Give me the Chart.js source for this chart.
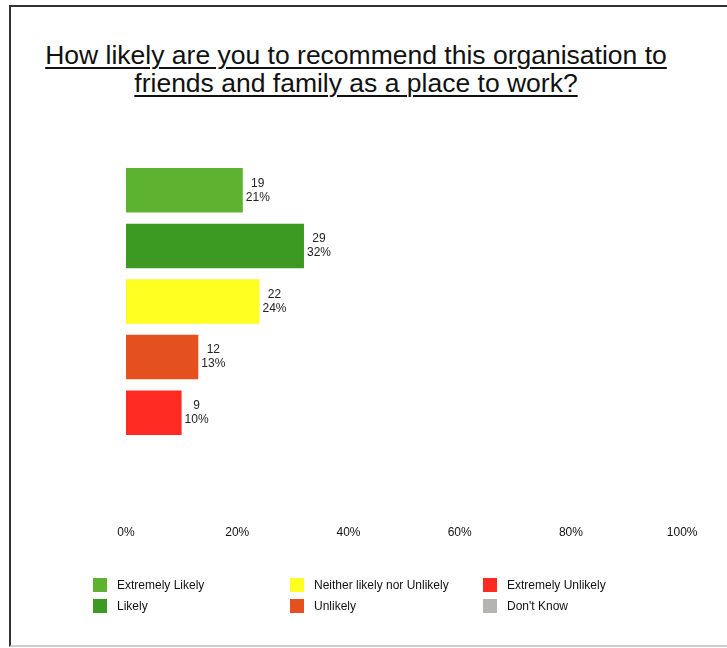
<!DOCTYPE html>
<html>
<head>
<meta charset="utf-8">
<title>Recommend as a place to work</title>
<script src="https://cdn.jsdelivr.net/npm/chart.js@4.4.1/dist/chart.umd.min.js"></script>
<style>
  html, body { margin: 0; padding: 0; background: #fff; }
  body { width: 727px; height: 648px; position: relative; overflow: hidden; font-family: "Liberation Sans", Arial, sans-serif; }
  #frame { position: absolute; left: 9px; top: 5px; width: 740px; height: 638px; border-left: 2px solid #333; border-top: 2px solid #333; border-bottom: 2px solid #ccc; }
  #title { position: absolute; left: 0; top: 41px; width: 712px; text-align: center; font-size: 26.5px; line-height: 28px; color: #111; text-decoration: underline; text-decoration-thickness: 2px; text-underline-offset: 3px; margin: 0; font-weight: normal; }
  #chart { position: absolute; left: 0; top: 0; }
  .item { position: absolute; font-size: 12px; color: #111; line-height: 14px; white-space: nowrap; }
  .item span { position: absolute; left: 0; top: 0; width: 14px; height: 14px; }
  .item b { font-weight: normal; position: absolute; left: 24px; top: 0; }
</style>
</head>
<body>
<div id="frame"></div>
<h1 id="title">How likely are you to recommend this organisation to<br>friends and family as a place to work?</h1>
<canvas id="chart" width="727" height="648"></canvas>
<div id="legend"></div>
<script>
// answers, top to bottom
const categories = ['Extremely Likely', 'Likely', 'Neither likely nor Unlikely', 'Unlikely', 'Extremely Unlikely', "Don't Know"];
const counts = [19, 29, 22, 12, 9, 0];
const percents = [21, 32, 24, 13, 10, 0];
const barColors = ['#5db22f', '#3c9a22', '#ffff22', '#e5501f', '#ff2a22', '#b4b4b0'];
const xTicks = [0, 20, 40, 60, 80, 100];

// count and percent written to the right of each bar
const barLabels = {
    id: 'barLabels',
    afterDatasetsDraw(chart) {
        const ctx = chart.ctx;
        const meta = chart.getDatasetMeta(0);
        ctx.save();
        ctx.font = '12px "Liberation Sans", Arial, sans-serif';
        ctx.fillStyle = '#222';
        ctx.textAlign = 'center';
        ctx.textBaseline = 'middle';
        meta.data.forEach(function(bar, i) {
            if (!counts[i]) return;
            ctx.fillText(String(counts[i]), bar.x + 15, bar.y - 7);
            ctx.fillText(percents[i] + '%', bar.x + 15, bar.y + 7);
        });
        ctx.restore();
    }
};

const ctx = document.getElementById('chart').getContext('2d');
new Chart(ctx, {
    type: 'bar',
    data: {
        labels: categories,
        datasets: [{
            data: percents,
            backgroundColor: barColors,
            barPercentage: 0.8,
            categoryPercentage: 1.0
        }]
    },
    options: {
        indexAxis: 'y',
        responsive: false,
        animation: false,
        layout: { padding: { left: 126, right: 40, top: 162.5, bottom: 78.5 } },
        scales: {
            x: {
                min: 0,
                max: 100,
                afterBuildTicks: function(axis) { axis.ticks = xTicks.map(v => ({ value: v })); },
                grid: { display: false, drawTicks: false },
                border: { display: false },
                ticks: {
                    padding: 29.5,
                    color: '#111',
                    font: { family: '"Liberation Sans", Arial, sans-serif', size: 12 },
                    callback: v => v + '%'
                }
            },
            y: { display: false }
        },
        plugins: {
            legend: { display: false },
            tooltip: { enabled: false }
        }
    },
    plugins: [barLabels]
});

// legend laid out in columns, two entries each
const legendCols = [93, 290, 483];
const legendRows = [578, 599];
const legend = document.getElementById('legend');
categories.forEach(function(name, i) {
    const el = document.createElement('div');
    el.className = 'item';
    el.style.left = legendCols[Math.floor(i / 2)] + 'px';
    el.style.top = legendRows[i % 2] + 'px';
    el.innerHTML = '<span style="background:' + barColors[i] + '"></span><b>' + name + '</b>';
    legend.appendChild(el);
});
</script>
</body>
</html>
